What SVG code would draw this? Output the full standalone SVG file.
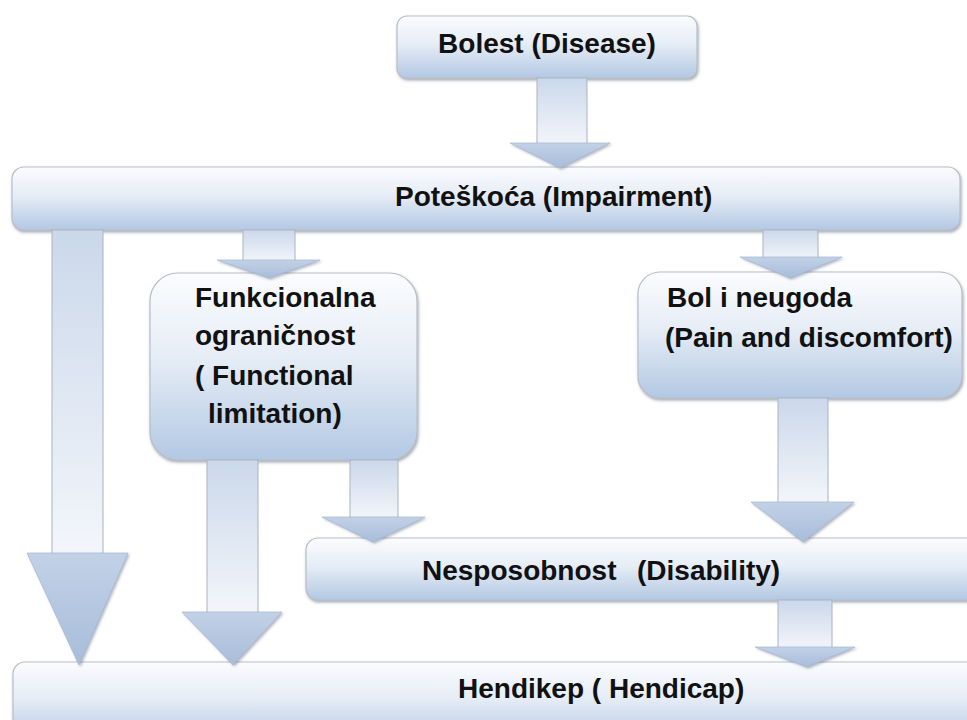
<svg xmlns="http://www.w3.org/2000/svg" width="967" height="720" viewBox="0 0 967 720">
<defs>
<linearGradient id="boxg" x1="0" y1="0" x2="0" y2="1">
<stop offset="0" stop-color="#fbfcfe"/>
<stop offset="0.45" stop-color="#e6edf6"/>
<stop offset="1" stop-color="#b3c8e3"/>
</linearGradient>
<linearGradient id="shaftg" x1="0" y1="0" x2="0" y2="1">
<stop offset="0" stop-color="#cbd8ea"/>
<stop offset="1" stop-color="#f3f6fb"/>
</linearGradient>
<linearGradient id="headg" x1="0" y1="0" x2="0" y2="1">
<stop offset="0" stop-color="#c2d1e6"/>
<stop offset="1" stop-color="#a8bdda"/>
</linearGradient>
<filter id="sh" x="-10%" y="-10%" width="120%" height="130%">
<feDropShadow dx="1" dy="2" stdDeviation="1.5" flood-color="#5a6678" flood-opacity="0.55"/>
</filter>
<filter id="ash" x="-20%" y="-10%" width="140%" height="130%">
<feDropShadow dx="1.5" dy="1.5" stdDeviation="1.2" flood-color="#6a7486" flood-opacity="0.5"/>
</filter>
</defs>
<style>
.box{fill:url(#boxg);stroke:#b9bec6;stroke-width:1.2;filter:url(#sh)}
.shaft{fill:url(#shaftg);stroke:#a9b3c1;stroke-width:1}
.head{fill:url(#headg);stroke:#9fb2cc;stroke-width:0.6;filter:url(#ash)}
.t{font-family:"Liberation Sans",Arial,sans-serif;font-weight:bold;font-size:28px;fill:#111}
</style>
<rect width="967" height="720" fill="#ffffff"/>

<g id="bolest">
<rect class="box" x="397" y="16" width="300" height="62" rx="10"/>
<text class="t" x="547" y="53" text-anchor="middle">Bolest (Disease)</text>
</g>

<g id="poteskoca">
<rect class="box" x="12" y="167" width="948" height="63" rx="12"/>
<text class="t" x="395" y="206">Poteškoća (Impairment)</text>
</g>

<g id="funkcionalna">
<rect class="box" x="150" y="273" width="267" height="187" rx="28"/>
<text class="t" x="195" y="307">Funkcionalna</text>
<text class="t" x="195" y="345">ograničnost</text>
<text class="t" x="195" y="385">( Functional</text>
<text class="t" x="208" y="423">limitation)</text>
</g>

<g id="bol">
<rect class="box" x="638" y="272" width="324" height="126" rx="22"/>
<text class="t" x="667" y="307">Bol i neugoda</text>
<text class="t" x="665" y="347">(Pain and discomfort)</text>
</g>

<g id="nesposobnost">
<rect class="box" x="306" y="538" width="680" height="62" rx="12"/>
<text class="t" x="422" y="580">Nesposobnost</text>
<text class="t" x="637" y="580">(Disability)</text>
</g>

<g id="hendikep">
<rect class="box" x="13" y="662" width="980" height="80" rx="12"/>
<text class="t" x="458" y="698">Hendikep ( Hendicap)</text>
</g>

<g id="connectors">
<g>
<rect class="shaft" x="537" y="78" width="50" height="67"/>
<polygon class="head" points="510,143 610,143 560,168"/>
</g>
<g>
<rect class="shaft" x="243" y="230" width="52" height="32"/>
<polygon class="head" points="217,260 320,260 269,278"/>
</g>
<g>
<rect class="shaft" x="763" y="230" width="55" height="29"/>
<polygon class="head" points="740,257 842,257 790,278"/>
</g>
<g>
<rect class="shaft" x="52" y="230" width="51" height="325"/>
<polygon class="head" points="27,553 128,553 79,665"/>
</g>
<g>
<rect class="shaft" x="207" y="460" width="51" height="154"/>
<polygon class="head" points="182,612 282,612 233,665"/>
</g>
<g>
<rect class="shaft" x="350" y="460" width="48" height="59"/>
<polygon class="head" points="322,517 425,517 373,542"/>
</g>
<g>
<rect class="shaft" x="778" y="398" width="50" height="106"/>
<polygon class="head" points="751,502 854,502 803,542"/>
</g>
<g>
<rect class="shaft" x="778" y="600" width="54" height="49"/>
<polygon class="head" points="755,647 855,647 807,667"/>
</g>
</g>
</svg>
